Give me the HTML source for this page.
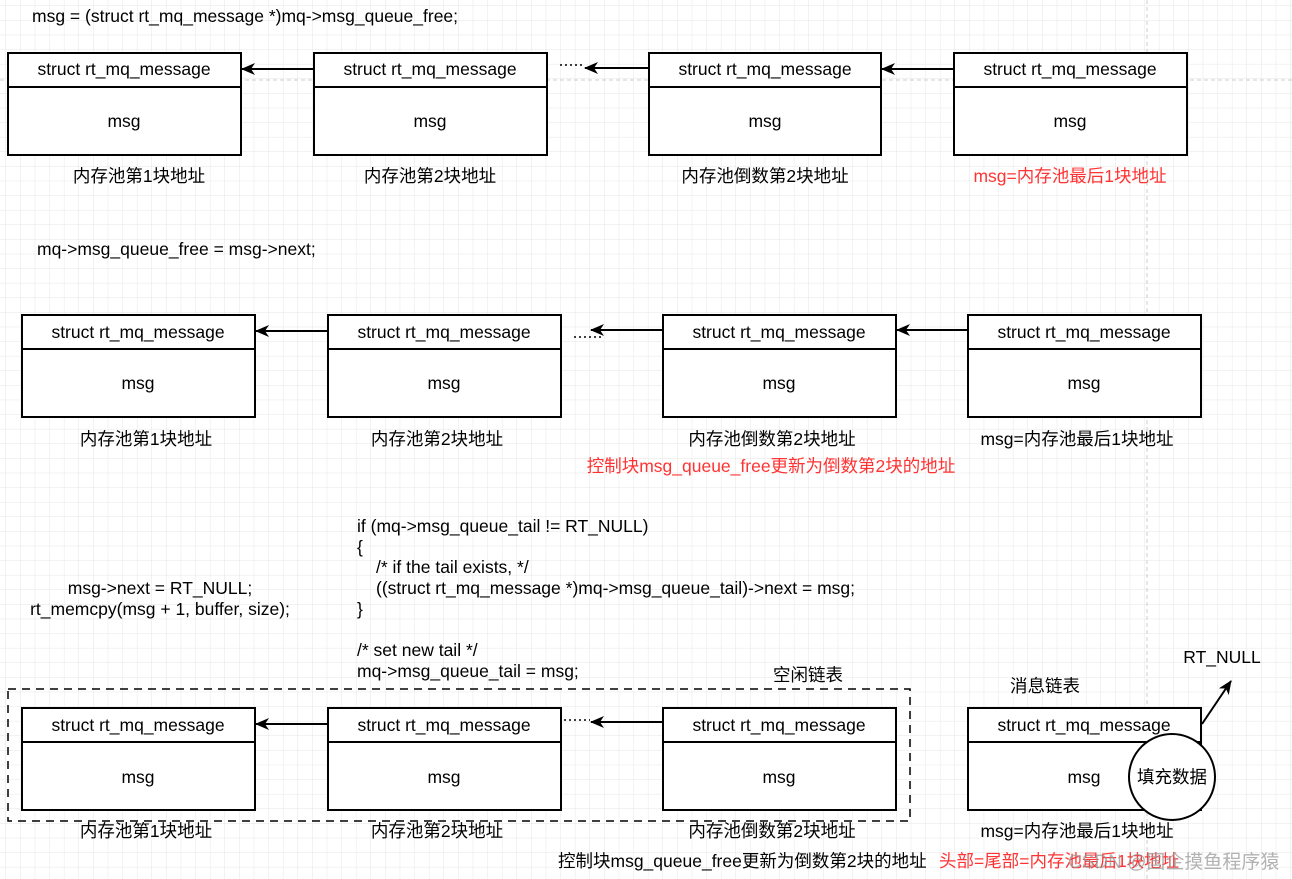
<!DOCTYPE html>
<html><head><meta charset="utf-8"><style>
body{margin:0;width:1292px;height:879px;overflow:hidden;background:#fff;font-family:"Liberation Sans","Noto Sans CJK SC",sans-serif;}
svg{position:absolute;left:0;top:0}
text{font-family:"Liberation Sans","Noto Sans CJK SC",sans-serif;font-size:17.5px;fill:#000}
</style></head><body>
<svg width="1292" height="879" viewBox="0 0 1292 879">
<defs>
<pattern id="g" width="14.6" height="14.6" patternUnits="userSpaceOnUse" x="6" y="6">
<path d="M14.6 0V14.6H0" fill="none" stroke="#e6e6e6" stroke-width="1"/>
</pattern>
<marker id="a" markerWidth="14" markerHeight="12" refX="13" refY="6" orient="auto" markerUnits="userSpaceOnUse">
<path d="M0,0 L14,6 L0,12 L4,6 Z" fill="#000"/>
</marker>
</defs>
<rect width="1292" height="879" fill="url(#g)"/>
<line x1="0" y1="80" x2="1292" y2="80" stroke="#ccc" stroke-dasharray="4,3"/>
<line x1="1147" y1="0" x2="1147" y2="879" stroke="#ccc" stroke-dasharray="4,3"/>

<g fill="#fff" stroke="#000" stroke-width="2">
<rect x="8" y="53" width="233" height="102"/><line x1="8" y1="87" x2="241" y2="87"/>
<rect x="314" y="53" width="233" height="102"/><line x1="314" y1="87" x2="547" y2="87"/>
<rect x="649" y="53" width="232" height="102"/><line x1="649" y1="87" x2="881" y2="87"/>
<rect x="954" y="53" width="233" height="102"/><line x1="954" y1="87" x2="1187" y2="87"/>

<rect x="22" y="315" width="233" height="102"/><line x1="22" y1="349" x2="255" y2="349"/>
<rect x="328" y="315" width="233" height="102"/><line x1="328" y1="349" x2="561" y2="349"/>
<rect x="663" y="315" width="233" height="102"/><line x1="663" y1="349" x2="896" y2="349"/>
<rect x="968" y="315" width="233" height="102"/><line x1="968" y1="349" x2="1201" y2="349"/>

<rect x="22" y="708" width="233" height="102"/><line x1="22" y1="742" x2="255" y2="742"/>
<rect x="328" y="708" width="233" height="102"/><line x1="328" y1="742" x2="561" y2="742"/>
<rect x="663" y="708" width="233" height="102"/><line x1="663" y1="742" x2="896" y2="742"/>
<rect x="968" y="708" width="233" height="102"/><line x1="968" y1="742" x2="1201" y2="742"/>
</g>
<rect x="8" y="689" width="902" height="132" fill="none" stroke="#000" stroke-width="1.5" stroke-dasharray="8,6"/>
<circle cx="1172" cy="777" r="43" fill="#fff" stroke="#000" stroke-width="2"/>

<g stroke="#000" stroke-width="2" marker-end="url(#a)">
<line x1="314" y1="69" x2="242" y2="69"/>
<line x1="649" y1="68" x2="585" y2="68"/>
<line x1="954" y1="69" x2="882" y2="69"/>
<line x1="328" y1="331" x2="256" y2="331"/>
<line x1="663" y1="330" x2="591" y2="330"/>
<line x1="968" y1="330" x2="897" y2="330"/>
<line x1="328" y1="724" x2="256" y2="724"/>
<line x1="663" y1="722" x2="591" y2="722"/>
<line x1="1202" y1="724" x2="1231" y2="681"/>
</g>
<g stroke="#000" stroke-width="1.5" stroke-dasharray="2,3">
<line x1="560" y1="65" x2="585" y2="65"/>
<line x1="574" y1="337" x2="604" y2="337"/>
<line x1="564" y1="720" x2="590" y2="720"/>
</g>

<g text-anchor="middle">
<text x="124" y="75">struct rt_mq_message</text><text x="124" y="127">msg</text>
<text x="430" y="75">struct rt_mq_message</text><text x="430" y="127">msg</text>
<text x="765" y="75">struct rt_mq_message</text><text x="765" y="127">msg</text>
<text x="1070" y="75">struct rt_mq_message</text><text x="1070" y="127">msg</text>
<text x="138" y="338">struct rt_mq_message</text><text x="138" y="389">msg</text>
<text x="444" y="338">struct rt_mq_message</text><text x="444" y="389">msg</text>
<text x="779" y="338">struct rt_mq_message</text><text x="779" y="389">msg</text>
<text x="1084" y="338">struct rt_mq_message</text><text x="1084" y="389">msg</text>
<text x="138" y="731">struct rt_mq_message</text><text x="138" y="783">msg</text>
<text x="444" y="731">struct rt_mq_message</text><text x="444" y="783">msg</text>
<text x="779" y="731">struct rt_mq_message</text><text x="779" y="783">msg</text>
<text x="1084" y="731">struct rt_mq_message</text><text x="1084" y="783">msg</text>
<text x="1172" y="783">填充数据</text>

<text x="139" y="182">内存池第1块地址</text>
<text x="430" y="182">内存池第2块地址</text>
<text x="765" y="182">内存池倒数第2块地址</text>
<text x="1070" y="182" style="fill:#ff3333">msg=内存池最后1块地址</text>
<text x="146" y="445">内存池第1块地址</text>
<text x="437" y="445">内存池第2块地址</text>
<text x="772" y="445">内存池倒数第2块地址</text>
<text x="1077" y="445">msg=内存池最后1块地址</text>
<text x="771" y="472" style="fill:#ff3333">控制块msg_queue_free更新为倒数第2块的地址</text>
<text x="146" y="837">内存池第1块地址</text>
<text x="437" y="837">内存池第2块地址</text>
<text x="772" y="837">内存池倒数第2块地址</text>
<text x="1077" y="837">msg=内存池最后1块地址</text>
<text x="160" y="594">msg-&gt;next = RT_NULL;</text>
<text x="160" y="615">rt_memcpy(msg + 1, buffer, size);</text>
<text x="808" y="681">空闲链表</text>
<text x="1045" y="692">消息链表</text>
<text x="1222" y="663">RT_NULL</text>
</g>
<text x="32" y="22">msg = (struct rt_mq_message *)mq-&gt;msg_queue_free;</text>
<text x="37" y="255">mq-&gt;msg_queue_free = msg-&gt;next;</text>
<text x="357" y="532">if (mq-&gt;msg_queue_tail != RT_NULL)</text>
<text x="357" y="553">{</text>
<text x="376" y="573">/* if the tail exists, */</text>
<text x="376" y="594">((struct rt_mq_message *)mq-&gt;msg_queue_tail)-&gt;next = msg;</text>
<text x="357" y="615">}</text>
<text x="357" y="656">/* set new tail */</text>
<text x="357" y="677">mq-&gt;msg_queue_tail = msg;</text>
<text x="558" y="867">控制块msg_queue_free更新为倒数第2块的地址</text>
<text x="939" y="867" style="fill:#ff3333">头部=尾部=内存池最后1块地址</text>
<text x="1068" y="868" style="fill:#999;opacity:0.75;font-size:19px">CSDN @国企摸鱼程序猿</text>
</svg>
</body></html>
